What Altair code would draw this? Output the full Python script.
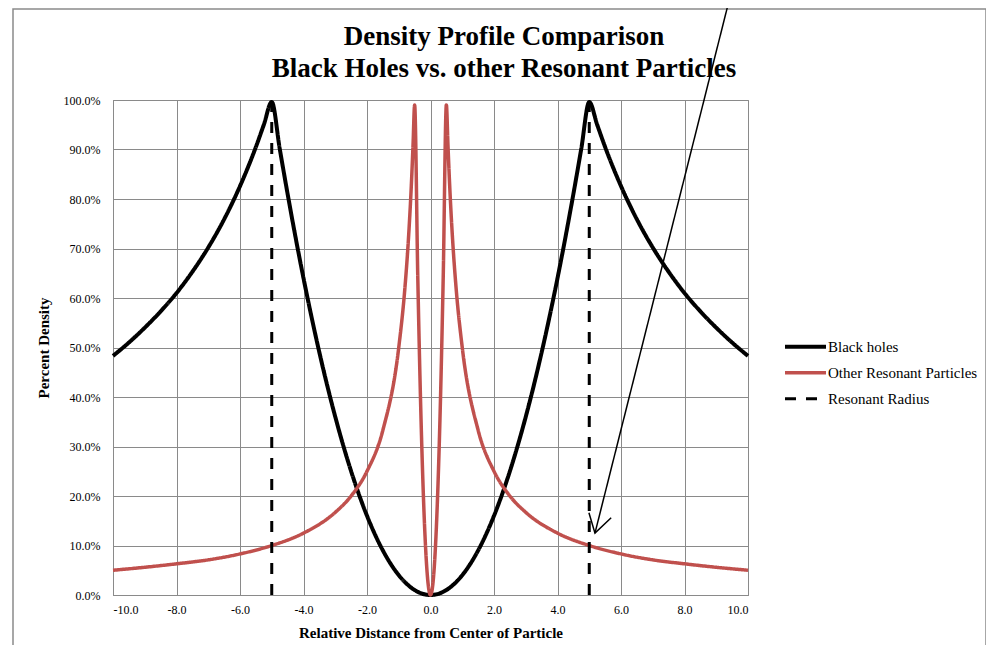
import altair as alt
import pandas as pd

# ---- data ----
title_lines = ["Density Profile Comparison", "Black Holes vs. other Resonant Particles"]
series_names = ["Black holes", "Other Resonant Particles", "Resonant Radius"]
series_colors = ["black", "#C0504D", "black"]

bh_x = [-10, -9.5, -9, -8.5, -8, -7.5, -7, -6.5, -6, -5.5, -5.25, -5, -4.75, -4.5, -4,
        -3.5, -3, -2.5, -2, -1.5, -1, -0.5, 0,
        0.5, 1, 1.5, 2, 2.5, 3, 3.5, 4, 4.5, 4.75, 5, 5.25, 5.5, 6, 6.5, 7, 7.5, 8,
        8.5, 9, 9.5, 10]
bh_y = [48.3, 51.0, 54.0, 57.3, 61.0, 65.3, 70.2, 75.9, 82.6, 90.5, 95.0, 99.6, 90.2, 81, 64,
        49, 36, 25, 16, 9, 4, 1, 0,
        1, 4, 9, 16, 25, 36, 49, 64, 81, 90.2, 99.6, 95.0, 90.5, 82.6, 75.9, 70.2, 65.3, 61.0,
        57.3, 54.0, 51.0, 48.3]

orp_x = [-10, -9, -8, -7, -6, -5, -4, -3, -2.5, -2, -1.5, -1, -0.8, -0.7, -0.6, -0.55,
         -0.5, -0.4, -0.3, -0.2, -0.1, 0,
         0.1, 0.2, 0.3, 0.4, 0.5,
         0.55, 0.6, 0.7, 0.8, 1, 1.5, 2, 2.5, 3, 4, 5, 6, 7, 8, 9, 10]
orp_y = [5, 5.6, 6.3, 7.1, 8.3, 10, 12.5, 16.7, 20, 25, 33.3, 50, 62.5, 71.4, 83.3, 90.9,
         99, 64, 36, 16, 4, 0,
         4, 16, 36, 64, 99,
         90.9, 83.3, 71.4, 62.5, 50, 33.3, 25, 20, 16.7, 12.5, 10, 8.3, 7.1, 6.3, 5.6, 5]

rr_x = [-5, 5]
rr_y0 = [0, 0]
rr_y1 = [100, 100]

# hand-drawn annotation arrow (data units)
arrow_x = [9.4, 5.18, 4.99, 5.18, 5.69]
arrow_y = [120, 12.5, 16.6, 12.5, 15.6]
arrow_part = ["shaft", "shaft", "head", "head", "head"]

x_ticks = [-10, -8, -6, -4, -2, 0, 2, 4, 6, 8, 10]
y_ticks = [0, 10, 20, 30, 40, 50, 60, 70, 80, 90, 100]

# ---- tables ----
curves = pd.DataFrame({
    "x": bh_x + orp_x,
    "y": bh_y + orp_y,
    "series": [series_names[0]] * len(bh_x) + [series_names[1]] * len(orp_x),
})
radius = pd.DataFrame({"x": rr_x, "y": rr_y0, "y_end": rr_y1,
                       "series": [series_names[2]] * len(rr_x)})
arrow = pd.DataFrame({"x": arrow_x, "y": arrow_y, "part": arrow_part,
                      "idx": list(range(len(arrow_x)))})

SERIF = "Liberation Serif"
GRID = "#8a8a8a"

x_enc = alt.X("x:Q",
              scale=alt.Scale(domain=[-10, 10], nice=False, zero=False),
              axis=alt.Axis(values=x_ticks, title="Relative Distance from  Center of Particle",
                            labelExpr="(datum.value < 0 ? '-' : '') + format(abs(datum.value), '.1f')",
                            tickSize=0, labelPadding=9, titlePadding=10))
y_enc = alt.Y("y:Q",
              scale=alt.Scale(domain=[0, 100], nice=False),
              axis=alt.Axis(values=y_ticks, title="Percent Density",
                            labelExpr="format(datum.value, '.1f') + '%'",
                            tickSize=0, labelPadding=13, titlePadding=12))

legend = alt.Legend(title=None, orient="none", legendX=670, legendY=234,
                    symbolType="stroke", symbolSize=1680, clipHeight=25.5,
                    labelFont=SERIF, labelFontSize=15, labelColor="black",
                    rowPadding=0, labelOffset=0, padding=0)

color = alt.Color("series:N", scale=alt.Scale(domain=series_names, range=series_colors),
                  sort=series_names, legend=legend)
dash = alt.StrokeDash("series:N", scale=alt.Scale(domain=series_names,
                                                  range=[[1, 0], [1, 0], [11, 10]]),
                      sort=series_names, legend=legend)
width = alt.StrokeWidth("series:N", scale=alt.Scale(domain=series_names, range=[4, 3, 3]),
                        sort=series_names, legend=legend)

lines = alt.Chart(curves).mark_line(interpolate="monotone").encode(
    x=x_enc, y=y_enc, color=color, strokeDash=dash, strokeWidth=width)

rules = alt.Chart(radius).mark_rule().encode(
    x=x_enc, y=y_enc, y2="y_end:Q", color=color, strokeDash=dash, strokeWidth=width)

arrow_layer = alt.Chart(arrow).mark_line(color="black", strokeWidth=1.5, clip=False).encode(
    x=x_enc, y=y_enc, detail="part:N", order="idx:Q")

border = alt.Chart(pd.DataFrame({"a": [0]})).mark_rect(
    fillOpacity=0, stroke="#8a8a8a", strokeWidth=1.5).encode(
    x=alt.value(-100), x2=alt.value(873), y=alt.value(-91), y2=alt.value(620))

title_df = pd.DataFrame({"t": title_lines, "row": [0, 1]})
title1 = alt.Chart(title_df.iloc[[0]]).mark_text(
    font=SERIF, fontSize=27, fontWeight="bold", color="black", align="center",
    baseline="alphabetic").encode(text="t:N", x=alt.value(391), y=alt.value(-55))
title2 = alt.Chart(title_df.iloc[[1]]).mark_text(
    font=SERIF, fontSize=27, fontWeight="bold", color="black", align="center",
    baseline="alphabetic").encode(text="t:N", x=alt.value(391), y=alt.value(-23))

chart = alt.layer(border, lines, rules, arrow_layer, title1, title2).properties(
    width=635, height=495,
    autosize=alt.AutoSizeParams(type="none"),
    padding={"left": 105, "top": 92, "right": 238, "bottom": 50},
).configure_axis(
    labelFont=SERIF, labelFontSize=12, labelColor="black",
    titleFont=SERIF, titleFontSize=15, titleFontWeight="bold", titleColor="black",
    gridColor=GRID, gridOpacity=1, domainColor=GRID,
).configure_view(stroke=GRID)

chart.save("out.html", embed_options={"renderer": "svg", "actions": False})
